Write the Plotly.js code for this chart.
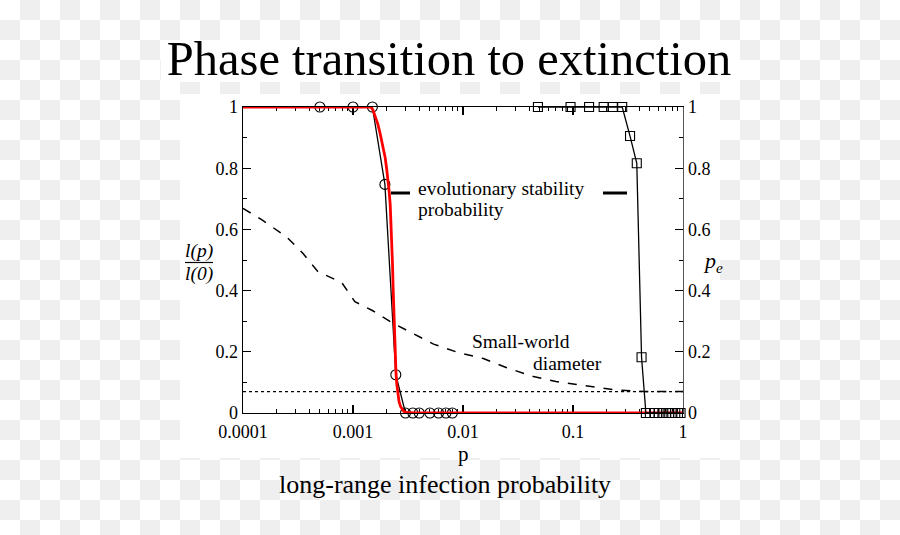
<!DOCTYPE html>
<html>
<head>
<meta charset="utf-8">
<script src="https://cdn.plot.ly/plotly-3.0.1.min.js"></script>
<style>
  html, body { margin:0; padding:0; width:900px; height:535px; overflow:hidden; }
  body { background: repeating-conic-gradient(#efefef 0 25%, #ffffff 0 50%) 0 0 / 40px 40px; position:relative; }
  #tbox { position:absolute; left:161px; top:40px; width:579px; height:42px; background:#fff; }
  #cbox { position:absolute; left:180px; top:94px; width:540px; height:364px; background:#fff; }
  #chart { position:absolute; left:0; top:0; width:900px; height:535px; }
</style>
</head>
<body>
<div id="tbox"></div>
<div id="cbox"></div>
<div id="chart"></div>
<script>
// ---- data ----
const xTickVals = [0.0001, 0.001, 0.01, 0.1, 1];
const xTickText = ['0.0001', '0.001', '0.01', '0.1', '1'];

// l(p)/l(0) : black line with open circles
const circX = [0.0005, 0.001, 0.0015, 0.00195, 0.00245, 0.003, 0.0035, 0.004, 0.005, 0.006, 0.007, 0.008];
const circY = [1, 1, 1, 0.747, 0.125, 0, 0, 0, 0, 0, 0, 0];

// evolutionary stability probability : red curve
const redX = [0.0001, 0.00145, 0.00152, 0.0016, 0.00168, 0.00176, 0.00184, 0.0019, 0.00196, 0.00202, 0.00208, 0.00213, 0.00218, 0.00222, 0.00226, 0.00229, 0.00232, 0.00235, 0.00238, 0.00242, 0.00246, 0.0025, 0.00256, 0.00262, 0.0027, 0.0028, 0.0029, 0.00306, 0.0033, 0.0036, 1];
const redY = [1, 1, 0.99, 0.97, 0.945, 0.915, 0.885, 0.86, 0.835, 0.80, 0.765, 0.725, 0.68, 0.62, 0.55, 0.48, 0.40, 0.32, 0.25, 0.18, 0.13, 0.095, 0.06, 0.038, 0.022, 0.011, 0.005, 0.002, 0.0005, 0, 0];

// p_e : black line with open squares
const sqX = [0.048, 0.095, 0.14, 0.19, 0.23, 0.28, 0.33, 0.38, 0.42, 0.46, 0.5, 0.55, 0.6, 0.65, 0.7, 0.75, 0.8, 0.85, 0.9, 0.95];
const sqY = [1, 1, 1, 1, 1, 1, 0.905, 0.816, 0.182, 0, 0, 0, 0, 0, 0, 0, 0, 0, 0, 0];

// small-world diameter : dashed
const dashX = [0.0001, 0.00015, 0.00025, 0.00035, 0.00048, 0.0006, 0.00079, 0.00104, 0.0015, 0.00232, 0.0035, 0.0054, 0.009, 0.0153, 0.025, 0.0436, 0.07, 0.124, 0.25, 0.44, 1];
const dashY = [0.669, 0.63, 0.575, 0.522, 0.462, 0.445, 0.426, 0.364, 0.335, 0.293, 0.26, 0.225, 0.198, 0.178, 0.148, 0.119, 0.103, 0.0915, 0.075, 0.07, 0.07];

// dotted reference level
const dotX = [0.0001, 1];
const dotY = [0.0696, 0.0696];

const FONT = 'Liberation Serif, Times New Roman, serif';

const minorX = [];
[0.0001, 0.001, 0.01, 0.1].forEach(d => { for (let m = 2; m <= 9; m++) minorX.push(d * m); });

const traces = [
  { x: dotX, y: dotY, mode: 'lines', line: { color: 'black', width: 1.3, dash: 'dot' }, cliponaxis: false, hoverinfo: 'skip' },
  { x: dashX, y: dashY, mode: 'lines', line: { color: 'black', width: 1.5, dash: 'dash' }, cliponaxis: false },
  { x: circX, y: circY, mode: 'lines+markers', line: { color: 'black', width: 1.3 },
    marker: { symbol: 'circle-open', size: 10, color: 'black', line: { width: 1.1 } }, cliponaxis: false },
  { x: sqX, y: sqY, yaxis: 'y2', mode: 'lines+markers', line: { color: 'black', width: 1.3 },
    marker: { symbol: 'square-open', size: 9, color: 'black', line: { width: 1.1 } }, cliponaxis: false },
  { x: redX, y: redY, mode: 'lines', line: { color: '#ff0000', width: 2.8 }, cliponaxis: false }
];

const px = v => (v - 243) / 440;
const py = v => (413 - v) / 306;

const annFont = { family: FONT, size: 19.5, color: 'black' };
const layout = {
  width: 900, height: 535,
  paper_bgcolor: 'rgba(0,0,0,0)', plot_bgcolor: '#fff',
  margin: { l: 243, r: 217, t: 107, b: 122, autoexpand: false },
  showlegend: false,
  title: { text: 'Phase transition to extinction', font: { family: FONT, size: 48.5, color: 'black' },
           x: 449 / 900, xanchor: 'center', y: 1 - 58 / 535, yanchor: 'middle' },
  xaxis: {
    type: 'log', range: [-4, 0], showline: true, linecolor: 'black', linewidth: 1.3, mirror: 'ticks',
    ticks: 'inside', ticklen: 8, tickwidth: 1.2, tickcolor: 'black', ticklabelstandoff: 2,
    tickmode: 'array', tickvals: xTickVals, ticktext: xTickText,
    tickfont: { family: FONT, size: 18, color: 'black' },
    minor: { ticks: 'inside', ticklen: 4, tickwidth: 1, tickcolor: 'black', tickmode: 'array', tickvals: minorX, showgrid: false },
    showgrid: false, zeroline: false, layer: 'below traces'
  },
  yaxis: {
    range: [0, 1], showline: true, linecolor: 'black', linewidth: 1.3,
    ticks: 'inside', ticklen: 8, tickwidth: 1.2, tickcolor: 'black', dtick: 0.2, tick0: 0,
    tickfont: { family: FONT, size: 18, color: 'black' },
    minor: { ticks: 'inside', ticklen: 4, tickwidth: 1, tickcolor: 'black', dtick: 0.1, showgrid: false },
    showgrid: false, zeroline: false, layer: 'below traces'
  },
  yaxis2: {
    range: [0, 1], overlaying: 'y', side: 'right', anchor: 'x', showline: true, linecolor: '#555', linewidth: 1.3,
    ticks: 'inside', ticklen: 8, tickwidth: 1.2, tickcolor: 'black', dtick: 0.2, tick0: 0,
    tickfont: { family: FONT, size: 18, color: 'black' },
    minor: { ticks: 'inside', ticklen: 4, tickwidth: 1, tickcolor: 'black', dtick: 0.1, showgrid: false },
    showgrid: false, zeroline: false, layer: 'below traces'
  },
  annotations: [
    { text: '<i>l(p)</i>', x: px(199), y: py(251), xref: 'paper', yref: 'paper', showarrow: false, font: annFont, xanchor: 'center', yanchor: 'middle' },
    { text: '<i>l(0)</i>', x: px(199), y: py(274), xref: 'paper', yref: 'paper', showarrow: false, font: annFont, xanchor: 'center', yanchor: 'middle' },
    { text: '<i>p<sub>e</sub></i>', x: px(713), y: py(262), xref: 'paper', yref: 'paper', showarrow: false, font: { family: FONT, size: 22, color: 'black' }, xanchor: 'center', yanchor: 'middle' },
    { text: 'p', x: px(463), y: py(454), xref: 'paper', yref: 'paper', showarrow: false, font: { family: FONT, size: 21, color: 'black' }, xanchor: 'center', yanchor: 'middle' },
    { text: 'evolutionary stability', x: px(416), y: py(188), xref: 'paper', yref: 'paper', showarrow: false, font: annFont, xanchor: 'left', yanchor: 'middle' },
    { text: 'probability', x: px(416), y: py(209), xref: 'paper', yref: 'paper', showarrow: false, font: annFont, xanchor: 'left', yanchor: 'middle' },
    { text: 'Small-world', x: px(470), y: py(341), xref: 'paper', yref: 'paper', showarrow: false, font: annFont, xanchor: 'left', yanchor: 'middle' },
    { text: 'diameter', x: px(531), y: py(363), xref: 'paper', yref: 'paper', showarrow: false, font: annFont, xanchor: 'left', yanchor: 'middle' },
    { text: 'long-range infection probability', x: px(445), y: py(484), xref: 'paper', yref: 'paper', showarrow: false, font: { family: FONT, size: 26, color: 'black' }, xanchor: 'center', yanchor: 'middle' }
  ],
  shapes: [
    { type: 'line', xref: 'paper', yref: 'paper', x0: px(185), x1: px(213), y0: py(262.5), y1: py(262.5), line: { color: 'black', width: 1.2 } },
    { type: 'line', xref: 'paper', yref: 'paper', x0: px(391), x1: px(410), y0: py(193), y1: py(193), line: { color: 'black', width: 3 } },
    { type: 'line', xref: 'paper', yref: 'paper', x0: px(603), x1: px(627), y0: py(193), y1: py(193), line: { color: 'black', width: 3 } }
  ]
};

Plotly.newPlot('chart', traces, layout, { displayModeBar: false, staticPlot: true });
</script>
</body>
</html>
